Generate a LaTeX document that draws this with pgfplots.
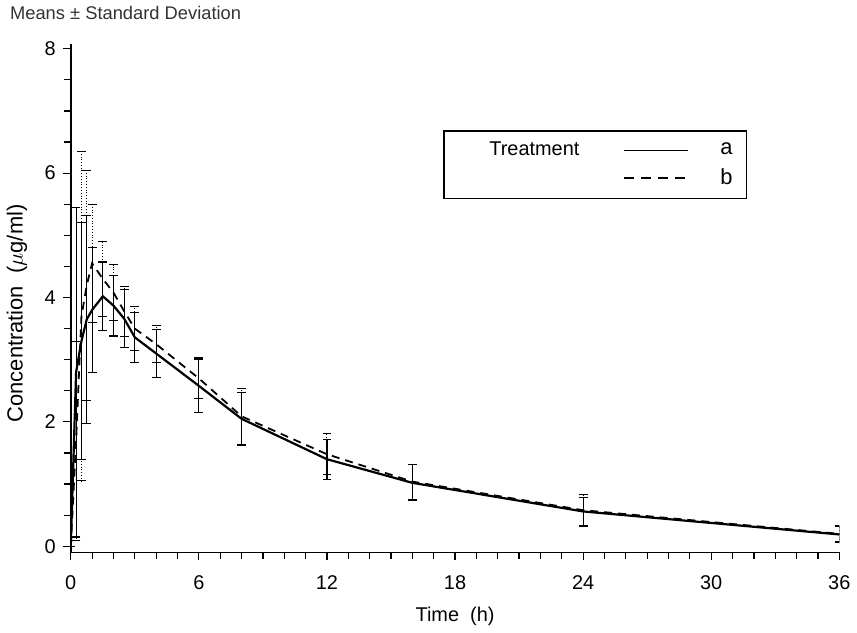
\documentclass[border=0pt]{standalone}
\usepackage{fontspec}
\setmainfont{Liberation Sans}
\usepackage{pgfplots}
\usepackage{pgfplotstable}
\pgfplotsset{compat=1.18}

% treatment a (solid)
\pgfplotstableread{
t     mean  sd
0     0.00  0.00
0.25  2.80  2.65
0.5   3.30  1.90
0.75  3.65  1.67
1     3.80  1.00
1.5   4.02  0.55
2     3.87  0.49
2.5   3.66  0.47
3     3.36  0.40
4     3.10  0.39
6     2.58  0.43
8     2.05  0.42
12    1.40  0.32
16    1.02  0.29
24    0.56  0.23
36    0.19  0.13
}\treatA

% treatment b (dashed)
\pgfplotstableread{
t     mean  sd
0     0.00  0.00
0.25  1.70  1.60
0.5   3.70  2.65
0.75  4.20  1.85
1     4.55  0.95
1.5   4.30  0.60
2     4.08  0.45
2.5   3.78  0.40
3     3.50  0.35
4     3.25  0.30
6     2.70  0.33
8     2.09  0.45
12    1.48  0.33
16    1.04  0.28
24    0.58  0.26
36    0.20  0.13
}\treatB

\begin{document}
\begin{tikzpicture}
\begin{axis}[
  scale only axis,
  width=386pt, height=255.5pt,
  xmin=0, xmax=36, ymin=-0.1, ymax=8.08,
  axis lines=left,
  axis line style={-, line width=0.9pt},
  xtick={0,6,...,36}, ytick={0,2,...,8},
  minor x tick num=5, minor y tick num=3,
  tick align=outside,
  major tick length=4pt, minor tick length=3.5pt,
  tick style={black, line width=0.6pt},
  /pgf/number format/assume math mode=true,
  ticklabel style={font=\fontsize{10}{12}\selectfont},
  xticklabel style={yshift=-4pt},
  xlabel={Time\ \ (h)},
  ylabel={Concentration\ \ ($\mu$g/ml)},
  xlabel style={font=\fontsize{10}{12}\selectfont, yshift=-2pt},
  ylabel style={font=\fontsize{11}{13}\selectfont, at={(ticklabel cs:0.47)}, yshift=2pt},
  legend columns=2,
  legend image code/.code={\draw[#1] (0pt,0pt) -- (32pt,0pt);},
  legend style={at={(rel axis cs:0.484,0.83)}, anchor=north west,
    draw=black, line width=0.9pt, inner xsep=5pt, inner ysep=3.5pt,
    font=\fontsize{10}{12}\selectfont, row sep=1pt},
  legend cell align=left,
]
\addplot[black, line width=1.1pt, forget plot,
  error bars/.cd, y dir=both, y explicit,
  error bar style={solid, line width=0.6pt},
  error mark options={rotate=90, line width=0.6pt, mark size=2.2pt}]
  table[x=t, y=mean, y error=sd]{\treatA};
\addplot[black, line width=0.9pt, dash pattern=on 4pt off 3pt, forget plot,
  error bars/.cd, y dir=both, y explicit,
  error bar style={densely dotted, line width=0.5pt},
  error mark options={rotate=90, solid, line width=0.5pt, mark size=2.2pt}]
  table[x=t, y=mean, y error=sd]{\treatB};

\addlegendimage{empty legend}
\addlegendentry{\hspace*{16pt}Treatment\hspace*{20pt}}
\addlegendimage{black, line width=0.8pt}
\addlegendentry{\hspace*{14pt}\fontsize{11}{12}\selectfont a}
\addlegendimage{empty legend}
\addlegendentry{}
\addlegendimage{black, line width=0.8pt, dash pattern=on 5pt off 3.5pt}
\addlegendentry{\hspace*{14pt}\fontsize{11}{12}\selectfont b}

\coordinate (topleft) at (rel axis cs:0,1);
\end{axis}
\node[anchor=base west, font=\fontsize{9.2}{11}\selectfont, text=black!80]
  at ([xshift=-34pt, yshift=12pt]topleft) {Means ± Standard Deviation};
\end{tikzpicture}
\end{document}
